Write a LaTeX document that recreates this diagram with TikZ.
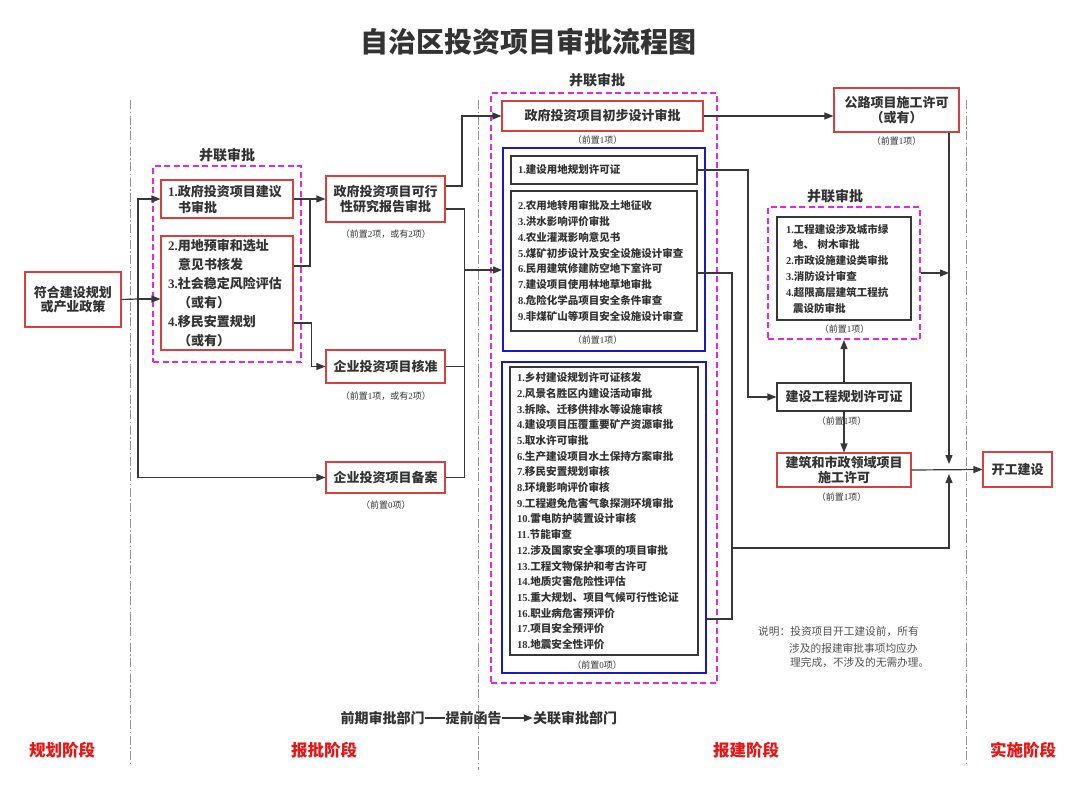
\documentclass[tikz,border=0pt]{standalone}
\usepackage{fontspec}
\setmainfont{Noto Sans CJK SC}
\newfontfamily\numf{Liberation Serif}
\newcommand\nm[1]{{\numf #1}}
\usetikzlibrary{arrows.meta}
\definecolor{boxred}{RGB}{214,64,64}
\definecolor{mag}{RGB}{226,40,226}
\definecolor{bblue}{RGB}{24,24,196}
\definecolor{txt}{RGB}{51,51,51}
\definecolor{lin}{RGB}{55,55,55}
\definecolor{stage}{RGB}{235,20,20}
\tikzset{
  box/.style={draw, line width=1.1pt, fill=white, inner sep=0pt, align=center, text=txt,
    font=\fontsize{13}{15}\selectfont\bfseries},
  redbox/.style={box, draw=boxred},
  graybox/.style={box, draw=lin},
  listbox/.style={draw=lin, line width=1.1pt, fill=white, inner ysep=0pt, align=left, text=txt,
    font=\fontsize{10.5}{15.8}\selectfont\bfseries},
  magbox/.style={draw=mag, line width=2pt, dash pattern=on 6pt off 3.5pt, inner sep=0pt},
  bluebox/.style={draw=bblue, line width=2pt, inner sep=0pt},
  conn/.style={draw=lin, line width=1.2pt},
  arr/.style={conn, -{Triangle[length=9pt,width=7pt]}},
  sublbl/.style={text=txt, inner sep=0pt, font=\fontsize{9}{10}\selectfont},
  grplbl/.style={text=txt, inner sep=0pt, font=\fontsize{14}{16}\selectfont\bfseries},
  stagelbl/.style={text=stage, inner sep=0pt, font=\fontsize{16.5}{18}\selectfont\bfseries},
  notelbl/.style={text=txt!85, inner sep=0pt, anchor=west, font=\fontsize{10.7}{12}\selectfont},
  phase/.style={draw=gray!85, line width=0.8pt, dash pattern=on 9pt off 2.5pt on 1.5pt off 2.5pt},
}
\begin{document}
\begin{tikzpicture}[x=1pt,y=-1pt]
\useasboundingbox (0,0) rectangle (1080,787);
\fill[white] (0,0) rectangle (1080,787);

% title
\node[text=txt, font=\fontsize{28}{30}\selectfont\bfseries] (title) at (528,42) {自治区投资项目审批流程图};

% phase separators
\draw[phase] (130,100) -- (130,765);
\draw[phase] (478,100) -- (478,770);
\draw[phase] (966,100) -- (966,765);

% group frames
\node[magbox, minimum width=148pt, minimum height=196pt] (mag1) at (227,264) {};
\node[magbox, minimum width=226pt, minimum height=590pt] (mag2) at (604,388) {};
\node[magbox, minimum width=152pt, minimum height=132pt] (mag3) at (844,273) {};
\node[grplbl] (grp1) at (227,155) {并联审批};
\node[grplbl] (grp2) at (597,80) {并联审批};
\node[grplbl] (grp3) at (835,196) {并联审批};

% planning stage
\node[redbox, minimum width=96pt, minimum height=55pt, font=\fontsize{13}{14}\selectfont\bfseries] (L) at (73,299.5) {符合建设规划\\或产业政策};

% approval stage
\node[redbox, minimum width=132pt, minimum height=38pt, text width=118pt, inner xsep=7pt, align=left, font=\fontsize{13}{16}\selectfont\bfseries] (b1) at (227,199) {\nm{1.}政府投资项目建议\\\hspace*{10pt}书审批};
\node[redbox, minimum width=132pt, minimum height=114pt, text width=118pt, inner xsep=7pt, align=left, font=\fontsize{13}{19}\selectfont\bfseries] (b2) at (227,293) {\nm{2.}用地预审和选址\\\hspace*{10pt}意见书核发\\\nm{3.}社会稳定风险评估\\\hspace*{10pt}（或有）\\\nm{4.}移民安置规划\\\hspace*{10pt}（或有）};

\node[redbox, minimum width=119pt, minimum height=46pt] (fs) at (385.5,199) {政府投资项目可行\\性研究报告审批};
\node[sublbl] (fssub) at (385.8,234) {（前置\nm{2}项，或有\nm{2}项）};
\node[redbox, minimum width=119pt, minimum height=33pt] (hz) at (385.5,366.5) {企业投资项目核准};
\node[sublbl] (hzsub) at (385.8,396) {（前置\nm{1}项，或有\nm{2}项）};
\node[redbox, minimum width=119pt, minimum height=31pt] (ba) at (385.5,477.5) {企业投资项目备案};
\node[sublbl] (basub) at (385.8,505) {（前置\nm{0}项）};

% construction-application stage
\node[redbox, minimum width=201pt, minimum height=30pt] (cb) at (602.5,116) {政府投资项目初步设计审批};
\node[sublbl] (cbsub) at (597.5,140) {（前置\nm{1}项）};

\node[bluebox, minimum width=202pt, minimum height=203pt] (blue1) at (604,249.5) {};
\node[listbox, minimum width=186pt, minimum height=28pt, text width=172pt, inner xsep=7pt] (g1) at (604,170) {\nm{1.}建设用地规划许可证};
\node[listbox, minimum width=186pt, minimum height=140pt, text width=172pt, inner xsep=7pt] (g2) at (604,261) {\nm{2.}农用地转用审批及土地征收\\\nm{3.}洪水影响评价审批\\\nm{4.}农业灌溉影响意见书\\\nm{5.}煤矿初步设计及安全设施设计审查\\\nm{6.}民用建筑修建防空地下室许可\\\nm{7.}建设项目使用林地草地审批\\\nm{8.}危险化学品项目安全条件审查\\\nm{9.}非煤矿山等项目安全设施设计审查};
\node[sublbl] (b1sub) at (597.5,340) {（前置\nm{1}项）};

\node[bluebox, minimum width=204pt, minimum height=311pt] (blue2) at (604,517.5) {};
\node[listbox, minimum width=188pt, minimum height=288pt, text width=174pt, inner xsep=7pt, font=\fontsize{10.6}{15.7}\selectfont\bfseries] (g3) at (604,511) {\nm{1.}乡村建设规划许可证核发\\\nm{2.}风景名胜区内建设活动审批\\\nm{3.}拆除、迁移供排水等设施审核\\\nm{4.}建设项目压覆重要矿产资源审批\\\nm{5.}取水许可审批\\\nm{6.}生产建设项目水土保持方案审批\\\nm{7.}移民安置规划审核\\\nm{8.}环境影响评价审核\\\nm{9.}工程避免危害气象探测环境审批\\\nm{10.}雷电防护装置设计审核\\\nm{11.}节能审查\\\nm{12.}涉及国家安全事项的项目审批\\\nm{13.}工程文物保护和考古许可\\\nm{14.}地质灾害危险性评估\\\nm{15.}重大规划、项目气候可行性论证\\\nm{16.}职业病危害预评价\\\nm{17.}项目安全预评价\\\nm{18.}地震安全性评价};
\node[sublbl] (b2sub) at (597,665) {（前置\nm{0}项）};

\node[redbox, minimum width=125pt, minimum height=44pt, font=\fontsize{13}{15.7}\selectfont\bfseries] (gl) at (896.5,110) {公路项目施工许可\\（或有）};
\node[sublbl] (glsub) at (896.7,141) {（前置\nm{1}项）};

\node[listbox, minimum width=134pt, minimum height=103pt, text width=116pt, inner xsep=9pt] (g4) at (844,268.5) {\nm{1.}工程建设涉及城市绿\\\hspace*{7pt}地、 树木审批\\\nm{2.}市政设施建设类审批\\\nm{3.}消防设计审查\\\nm{4.}超限高层建筑工程抗\\\hspace*{7pt}震设防审批};
\node[sublbl] (g4sub) at (844.5,329) {（前置\nm{1}项）};

\node[graybox, minimum width=134pt, minimum height=28pt] (gh) at (844,397) {建设工程规划许可证};
\node[redbox, minimum width=134pt, minimum height=34pt] (sg) at (844,470) {建筑和市政领域项目\\施工许可};
\node[sublbl] (sgsub) at (841.7,497) {（前置\nm{1}项）};

% implementation stage
\node[redbox, minimum width=69pt, minimum height=35pt] (kg) at (1017.5,469.5) {开工建设};

% junctions
\coordinate (jL) at (138,299);
\coordinate (jA) at (310,199);
\coordinate (jC) at (462,186);
\coordinate (jD) at (464,270);
\coordinate (jE) at (748,170);
\coordinate (jF) at (732,548);
\coordinate (jr) at (949,469);

% connectors
\draw[conn] (L.east) -- (jL);
\draw[arr] (jL) -- (jL -| b2.west);
\draw[arr] (jL) |- (b1.west);
\draw[arr] (jL) |- (ba.west);
\draw[arr] (b1.east) -- (fs.west);
\draw[conn] ([yshift=27pt]b2.east) -| (jA);
\draw[arr] ([yshift=-30pt]b2.east) -- ++(18,0) |- (hz.west);
\draw[arr] ([yshift=13pt]fs.east) -- (jC) |- (cb.west);
\draw[conn] ([yshift=-10pt]fs.east) -- ++(19,0) |- (ba.east);
\draw[conn] (hz.east) -- (hz.east -| jD);
\draw[arr] (jD) -- (jD -| blue1.west);
\draw[arr] (cb.east) -- (cb.east -| gl.west);
\draw[arr] (g1.east) -- (jE) |- (gh.west);
\draw[conn] ([yshift=-12pt]g2.east) -| (jF);
\draw[conn] ([yshift=-101.5pt]blue2.east) -| (jF);
\draw[arr] (jF) -| ([yshift=-5pt]jr);
\draw[arr] (gl.south -| jr) -- ([yshift=5pt]jr);
\draw[arr] (mag3.east) -- (mag3.east -| jr);
\draw[arr] (gh.north) -- (mag3.south);
\draw[arr] (gh.south) -- (sg.north);
\node[sublbl] (ghsub) at (841.7,421) {（前置\nm{1}项）};
\draw[arr] (sg.east) -- (kg.west);

% note
\node[notelbl] (n1) at (758,632) {说明：投资项目开工建设前，所有};
\node[notelbl] (n2) at (789,648) {涉及的报建审批事项均应办};
\node[notelbl] (n3) at (790,663) {理完成，不涉及的无需办理。};

% legend
\node[text=txt, inner sep=0pt, font=\fontsize{14}{16}\selectfont\bfseries] (lg1) at (382.5,718) {前期审批部门};
\node[text=txt, inner sep=0pt, font=\fontsize{14}{16}\selectfont\bfseries] (lg2) at (473.5,718) {提前函告};
\node[text=txt, inner sep=0pt, font=\fontsize{14}{16}\selectfont\bfseries] (lg3) at (575,718) {关联审批部门};
\draw[conn] (lg1.east) -- (lg2.west);
\draw[arr] (lg2.east) -- (lg3.west);

% stage labels
\node[stagelbl] (s1) at (62,750) {规划阶段};
\node[stagelbl] (s2) at (324,750) {报批阶段};
\node[stagelbl] (s3) at (746,750) {报建阶段};
\node[stagelbl] (s4) at (1023,750) {实施阶段};
\end{tikzpicture}
\end{document}
